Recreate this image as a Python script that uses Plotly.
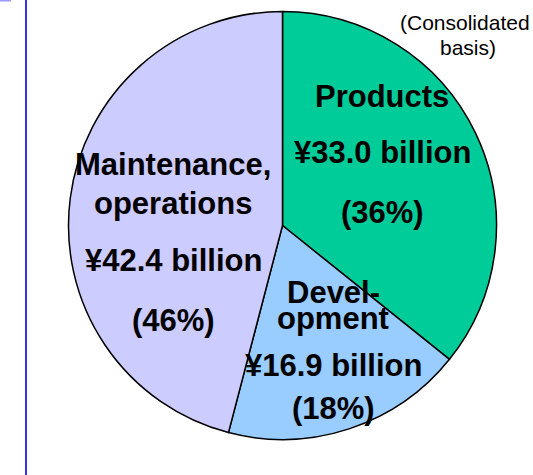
import plotly.graph_objects as go

# Segment data (¥ billion, consolidated)
segments = ["Products", "Development", "Maintenance, operations"]
amounts = [33.0, 16.9, 42.4]
colors = ["#00CC99", "#99CCFF", "#CCCCFF"]

# Label lines shown for each segment (name part)
name_lines = [["Products"], ["Devel-", "opment"], ["Maintenance,", "operations"]]

W, H = 533, 475
total = sum(amounts)
shares = [round(a / total * 100) for a in amounts]

# Pie placement in pixels
cx, cy, r = 282.5, 225.5, 214

fig = go.Figure(
    go.Pie(
        labels=segments,
        values=amounts,
        marker=dict(colors=colors, line=dict(color="black", width=1.5)),
        sort=False,
        direction="clockwise",
        rotation=0,
        textinfo="none",
        hoverinfo="label+value+percent",
        showlegend=False,
        domain=dict(
            x=[(cx - r) / W, (cx + r) / W],
            y=[(H - cy - r) / H, (H - cy + r) / H],
        ),
    )
)


def px(x, y):
    return x / W, 1 - y / H


font_big = dict(family="Liberation Sans, Arial, sans-serif", size=31, color="black", weight="bold")

# Text layout per segment: centre x and y of each line (pixels)
label_layout = [
    (382, [96], 153, 212),
    (333, [292, 318], 365, 408),
    (173, [165, 203], 260, 320),
]

annotations = []
for i, (lx, name_ys, amt_y, pct_y) in enumerate(label_layout):
    lines = list(zip(name_lines[i], name_ys))
    lines.append((f"¥{amounts[i]:.1f} billion", amt_y))
    lines.append((f"({shares[i]}%)", pct_y))
    for text, ly in lines:
        ax, ay = px(lx, ly)
        annotations.append(
            dict(
                text=text, x=ax, y=ay, xref="paper", yref="paper",
                xanchor="center", yanchor="middle", showarrow=False,
                font=font_big,
            )
        )

font_small = dict(family="Liberation Sans, Arial, sans-serif", size=21, color="black")
for text, lx, ly in [("(Consolidated", 465, 23), ("basis)", 468, 47)]:
    ax, ay = px(lx, ly)
    annotations.append(
        dict(text=text, x=ax, y=ay, xref="paper", yref="paper",
             xanchor="center", yanchor="middle", showarrow=False, font=font_small)
    )

shapes = [
    dict(type="line", xref="paper", yref="paper",
         x0=26 / W, x1=26 / W, y0=0, y1=1,
         line=dict(color="#3333EE", width=2)),
    dict(type="rect", xref="paper", yref="paper",
         x0=0, x1=11 / W, y0=1 - 1.5 / H, y1=1,
         line=dict(width=0), fillcolor="#9999FF"),
]

fig.update_layout(
    width=W, height=H,
    margin=dict(l=0, r=0, t=0, b=0),
    paper_bgcolor="white", plot_bgcolor="white",
    annotations=annotations,
    shapes=shapes,
)

fig.write_html("out.html")
